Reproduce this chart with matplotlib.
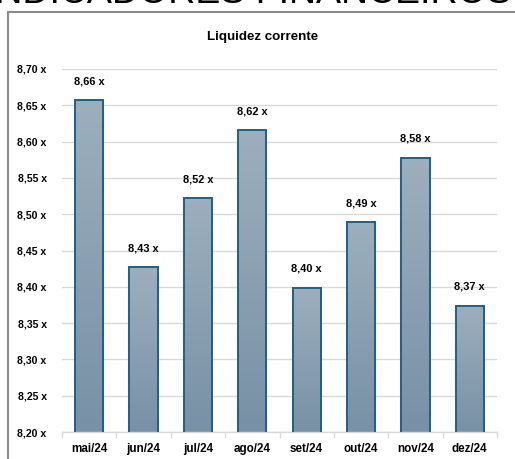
import matplotlib.pyplot as plt
import numpy as np
from matplotlib.colors import LinearSegmentedColormap
from matplotlib.lines import Line2D

months = ["mai/24", "jun/24", "jul/24", "ago/24", "set/24", "out/24", "nov/24", "dez/24"]
liquidez = [8.657, 8.427, 8.522, 8.616, 8.399, 8.489, 8.578, 8.374]
y_ticks = [8.20, 8.25, 8.30, 8.35, 8.40, 8.45, 8.50, 8.55, 8.60, 8.65, 8.70]

plt.rcParams['font.family'] = ['Liberation Sans Narrow', 'Liberation Sans', 'DejaVu Sans']
plt.rcParams['font.weight'] = 'bold'


def fmt(v):
    return "{:.2f} x".format(v).replace(".", ",")


fig = plt.figure(figsize=(5.15, 4.59), dpi=100)
ax = fig.add_axes([62 / 515, 27 / 459, 435 / 515, (432 - 69) / 459])

x = np.arange(len(months))
bars = ax.bar(x, liquidez, width=0.52, bottom=0, color='none', edgecolor='#1f5f87',
              linewidth=1.4, zorder=3)

# gradient fill clipped to each bar
cmap = LinearSegmentedColormap.from_list('g', ['#7891a6', '#9dafbd'])
grad = np.linspace(0, 1, 256).reshape(-1, 1)
for b in bars:
    x0, w, h = b.get_x(), b.get_width(), b.get_height()
    im = ax.imshow(grad, cmap=cmap, aspect='auto', origin='lower',
                   extent=[x0, x0 + w, 8.20, h], zorder=2)
    im.set_clip_path(b)

for xi, v in zip(x, liquidez):
    ax.annotate(fmt(v), (xi, v), xytext=(0, 10), textcoords='offset points',
                ha='center', va='bottom', fontsize=7.9, fontweight='bold')

ax.set_xlim(-0.5, len(months) - 0.5)
ax.set_ylim(8.20, 8.70)
ax.set_yticks(y_ticks)
ax.set_yticklabels([fmt(t) for t in y_ticks], fontsize=7.6, fontweight='bold')
ax.set_xticks(x)
ax.set_xticklabels(months, fontsize=8.4, fontweight='bold')
ax.set_xticks(np.arange(-0.5, len(months)), minor=True)
ax.tick_params(axis='x', which='major', length=0, pad=8)
ax.tick_params(axis='x', which='minor', length=4, color='#d9d9d9', width=1)
ax.tick_params(axis='y', length=0, pad=11)
ax.grid(axis='y', color='#d9d9d9', linewidth=1, zorder=0)
ax.set_axisbelow(True)
for s in ['top', 'right', 'left']:
    ax.spines[s].set_visible(False)
ax.spines['bottom'].set_color('#d9d9d9')
ax.spines['bottom'].set_linewidth(1)

# outer frame (left and top edges visible)
fig.add_artist(Line2D([8 / 515, 8 / 515], [0, 1 - 12 / 459], color='#8c8c8c', linewidth=1.5))
fig.add_artist(Line2D([8 / 515, 1], [1 - 12 / 459, 1 - 12 / 459], color='#8c8c8c', linewidth=1.5))

fig.text(263 / 515, 1 - 37 / 459, "Liquidez corrente", ha='center', va='center',
         fontsize=9.6, fontweight='bold')
# page heading, cut off at the top of the picture as in the source
fig.text(248 / 515, 1 - 3 / 459, "INDICADORES FINANCEIROS", ha='center', va='baseline',
         fontsize=27, fontweight='normal')

fig.savefig("out.png", dpi=100)
